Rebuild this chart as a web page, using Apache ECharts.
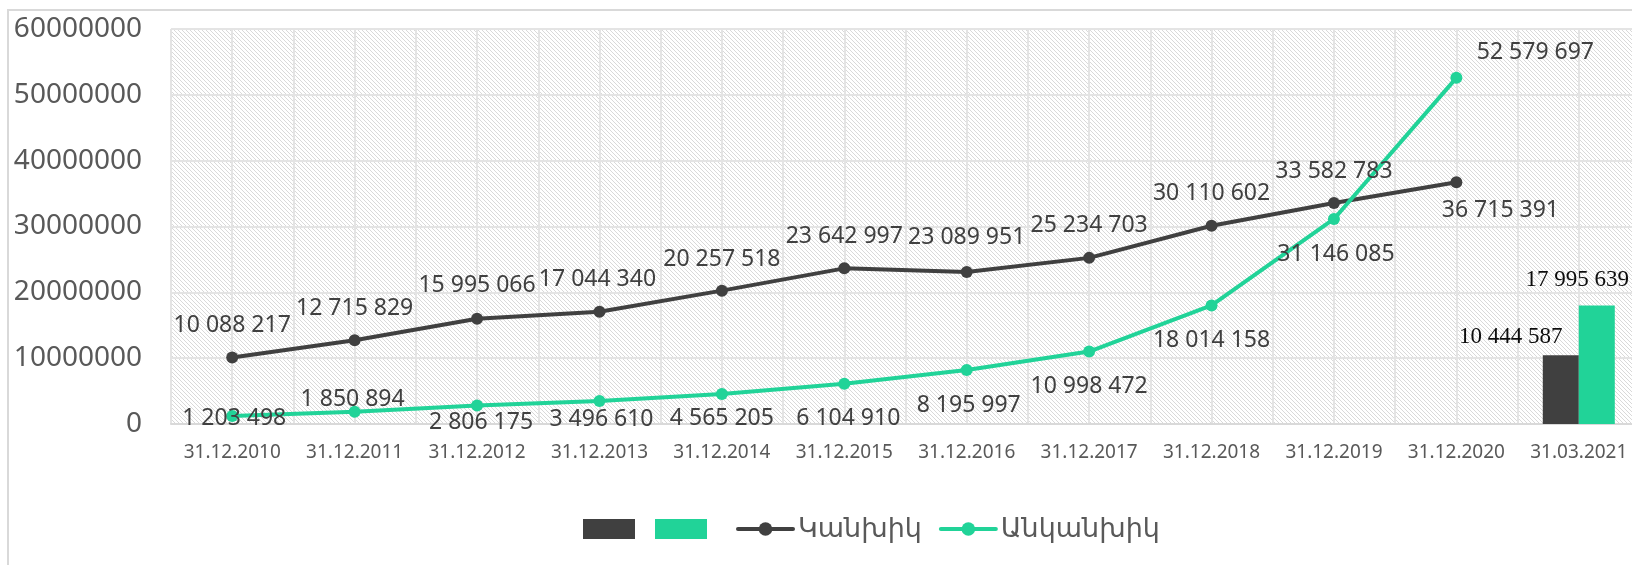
<!DOCTYPE html>
<html>
<head>
<meta charset="utf-8">
<script src="https://cdn.jsdelivr.net/npm/echarts@6/dist/echarts.min.js"></script>
<style>
  html, body { margin: 0; padding: 0; background: #ffffff; overflow: hidden; }
  #chart { width: 1660px; height: 565px; }
</style>
</head>
<body>
<div id="chart"></div>
<script>
// ---- data ----
const categories = ['31.12.2010', '31.12.2011', '31.12.2012', '31.12.2013', '31.12.2014', '31.12.2015',
  '31.12.2016', '31.12.2017', '31.12.2018', '31.12.2019', '31.12.2020', '31.03.2021'];
const cashName = 'Կանխիկ';
const noncashName = 'Անկանխիկ';
const cashLine = [10088217, 12715829, 15995066, 17044340, 20257518, 23642997, 23089951, 25234703, 30110602, 33582783, 36715391, null];
const noncashLine = [1203498, 1850894, 2806175, 3496610, 4565205, 6104910, 8195997, 10998472, 18014158, 31146085, 52579697, null];
const cashBar = [null, null, null, null, null, null, null, null, null, null, null, 10444587];
const noncashBar = [null, null, null, null, null, null, null, null, null, null, null, 17995639];
const yMin = 0, yMax = 60000000, yStep = 10000000;

// ---- label placement (style, not data) ----
const cashLabelOffsets = [[0,-32],[0,-32],[0,-33],[-2,-32],[0,-31],[0,-32],[0,-35],[0,-32],[0,-32],[0,-31],[44,28]];
const noncashLabelOffsets = [[2,2],[-2,-12],[4,17],[2,18],[0,25],[4,35],[2,35],[0,35],[0,35],[2,35],[79,-25]];

const FONT = "'Noto Sans', 'DejaVu Sans', sans-serif";
const DARK = '#404040';
const GREEN = '#21d398';

function fmt(v) { return String(v).replace(/\B(?=(\d{3})+(?!\d))/g, ' '); }

// hatched background pattern
const pat = document.createElement('canvas');
pat.width = 8; pat.height = 8;
const pc = pat.getContext('2d');
pc.fillStyle = '#ffffff'; pc.fillRect(0, 0, 8, 8);
pc.fillStyle = '#d9d9d9';
for (let y = 0; y < 8; y++) for (let x = 0; x < 8; x++) {
  if (((x - y) % 4 + 4) % 4 === 0) pc.fillRect(x, y, 1, 1);
}

function lineData(values, offsets) {
  return values.map((v, i) => v == null ? '-' : ({
    value: v,
    label: { offset: offsets[i] }
  }));
}

const halfBands = [];
for (let i = 0; i < categories.length * 2; i++) halfBands.push(String(i));

const chart = echarts.init(document.getElementById('chart'), null, { renderer: 'canvas' });
chart.setOption({
  animation: false,
  backgroundColor: '#ffffff',
  textStyle: { fontFamily: FONT },
  graphic: [{
    type: 'rect', silent: true, z: -10,
    shape: { x: 8, y: 10, width: 1700, height: 600 },
    style: { fill: 'none', stroke: '#d9d9d9', lineWidth: 2 }
  }],
  grid: {
    left: 171, top: 29, width: 1469, height: 395,
    show: true, borderWidth: 0, borderColor: 'transparent',
    backgroundColor: { image: pat, repeat: 'repeat' }
  },
  legend: [{
    data: [cashName + ' 2021', noncashName + ' 2021'],
    left: 583, top: 519, padding: 0,
    itemWidth: 52, itemHeight: 20, itemGap: 20,
    icon: 'rect',
    formatter: () => '',
    textStyle: { fontSize: 28, fontFamily: FONT }
  }, {
    data: [cashName, noncashName],
    left: 736, top: 514, padding: 0,
    itemWidth: 55, itemHeight: 17, itemGap: 17,
    lineStyle: { width: 4, cap: 'round' },
    textStyle: { fontSize: 27, color: '#595959', fontFamily: FONT, lineHeight: 30 }
  }],
  xAxis: [{
    type: 'category', data: categories, boundaryGap: true,
    axisLine: { lineStyle: { color: '#d9d9d9', width: 2 } },
    axisTick: { show: false },
    axisLabel: { interval: 0, fontSize: 19, color: '#595959', margin: 19, fontFamily: FONT },
    splitLine: { show: false }
  }, {
    type: 'category', data: halfBands, boundaryGap: true, position: 'top',
    axisLine: { show: false }, axisTick: { show: false }, axisLabel: { show: false },
    splitLine: { show: true, interval: 0, lineStyle: { color: '#e4e4e4', width: 2 } }
  }],
  yAxis: {
    type: 'value', min: yMin, max: yMax, interval: yStep,
    axisLine: { show: false }, axisTick: { show: false },
    axisLabel: { fontSize: 28, color: '#595959', margin: 29, fontFamily: FONT, formatter: v => String(v) },
    splitLine: { lineStyle: { color: '#e4e4e4', width: 2 } }
  },
  series: [{
    name: cashName + ' 2021', type: 'bar', data: cashBar, barWidth: 36, barGap: '0%',
    itemStyle: { color: DARK },
    label: { show: true, position: 'top', distance: 5, offset: [-50, -1.5], formatter: p => fmt(p.value),
      fontFamily: "'Liberation Serif', serif", fontSize: 23, lineHeight: 23, color: '#0d0d0d' }
  }, {
    name: noncashName + ' 2021', type: 'bar', data: noncashBar, barWidth: 36, barGap: '0%',
    itemStyle: { color: GREEN },
    label: { show: true, position: 'top', distance: 5, offset: [-19.5, -9], formatter: p => fmt(p.value),
      fontFamily: "'Liberation Serif', serif", fontSize: 23, lineHeight: 23, color: '#0d0d0d' }
  }, {
    name: cashName, type: 'line', data: lineData(cashLine, cashLabelOffsets),
    symbol: 'circle', symbolSize: 12,
    lineStyle: { color: DARK, width: 4 }, itemStyle: { color: DARK },
    label: { show: true, position: 'inside', align: 'center', verticalAlign: 'middle',
      formatter: p => fmt(p.value), fontSize: 23, color: '#404040', fontFamily: FONT }
  }, {
    name: noncashName, type: 'line', data: lineData(noncashLine, noncashLabelOffsets),
    symbol: 'circle', symbolSize: 12,
    lineStyle: { color: GREEN, width: 4 }, itemStyle: { color: GREEN },
    label: { show: true, position: 'inside', align: 'center', verticalAlign: 'middle',
      formatter: p => fmt(p.value), fontSize: 23, color: '#404040', fontFamily: FONT }
  }]
});
</script>
</body>
</html>
